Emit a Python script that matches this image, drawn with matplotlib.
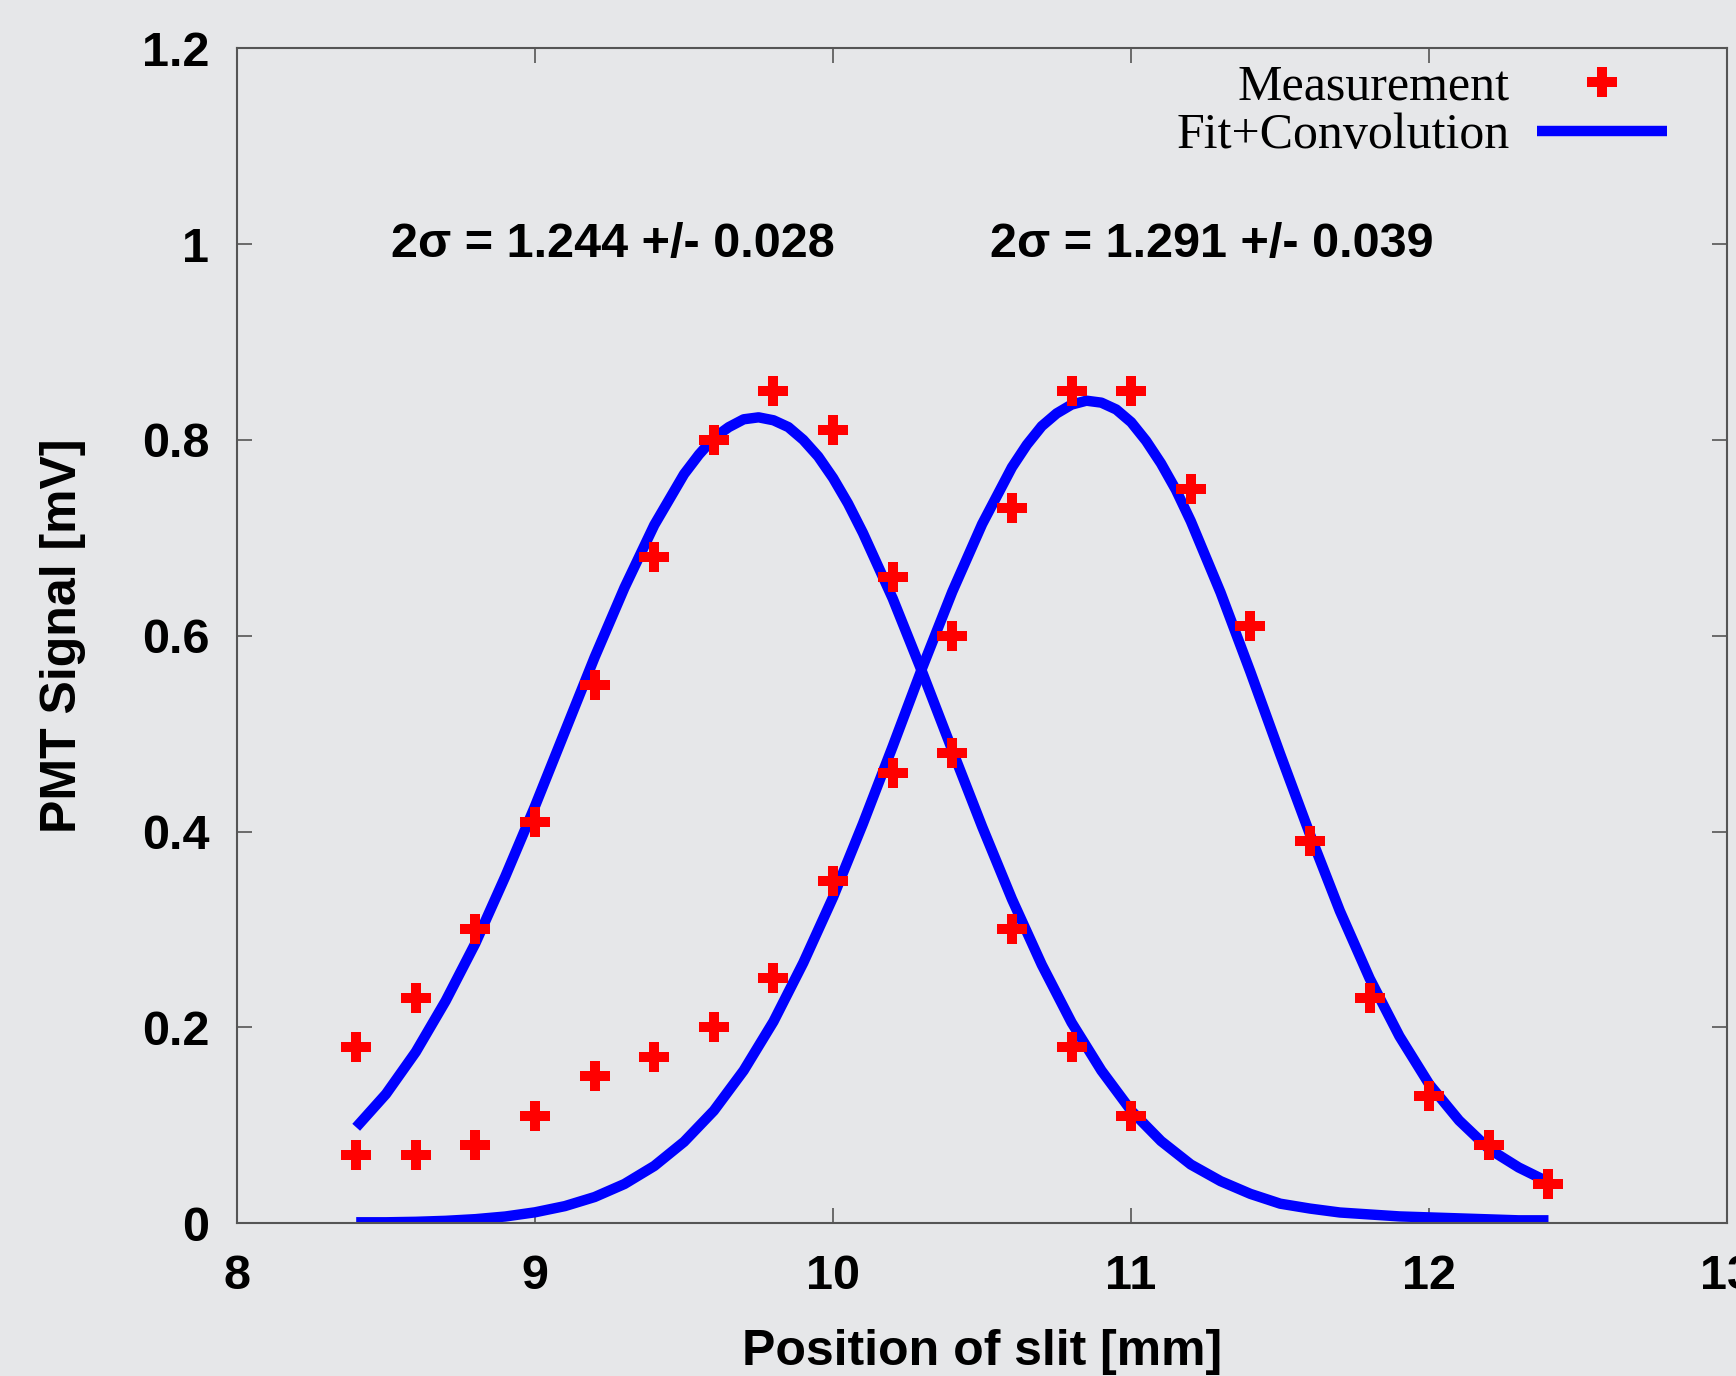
import numpy as np
import matplotlib
matplotlib.use('Agg')
import matplotlib.pyplot as plt
from matplotlib.ticker import FormatStrFormatter

# measured points (slit position in mm, PMT signal in mV)
x_meas1 = [8.4, 8.6, 8.8, 9.0, 9.2, 9.4, 9.6, 9.8, 10.0, 10.2, 10.4, 10.6, 10.8, 11.0]
y_meas1 = [0.18, 0.23, 0.30, 0.41, 0.55, 0.68, 0.80, 0.85, 0.81, 0.66, 0.48, 0.30, 0.18, 0.11]

x_meas2 = [8.4, 8.6, 8.8, 9.0, 9.2, 9.4, 9.6, 9.8, 10.0, 10.2, 10.4, 10.6, 10.8, 11.0,
           11.2, 11.4, 11.6, 11.8, 12.0, 12.2, 12.4]
y_meas2 = [0.07, 0.07, 0.08, 0.11, 0.15, 0.17, 0.20, 0.25, 0.35, 0.46, 0.60, 0.73, 0.85, 0.85,
           0.75, 0.61, 0.39, 0.23, 0.13, 0.08, 0.04]

# fit curves (finer steps around the peaks)
x_fit1 = [8.4, 8.5, 8.6, 8.7, 8.8, 8.9, 9.0, 9.1, 9.2, 9.3, 9.4, 9.5, 9.55, 9.6, 9.65,
          9.7, 9.75, 9.8, 9.85, 9.9, 9.95, 10.0, 10.05, 10.1, 10.2, 10.3, 10.4, 10.5,
          10.6, 10.7, 10.8, 10.9, 11.0, 11.1, 11.2, 11.3, 11.4, 11.5, 11.6, 11.7, 11.8,
          11.9, 12.0, 12.1, 12.2, 12.3, 12.4]
y_fit1 = [0.098, 0.132, 0.175, 0.227, 0.286, 0.354, 0.426, 0.502, 0.578, 0.649, 0.713,
          0.765, 0.785, 0.802, 0.813, 0.821, 0.823, 0.820, 0.813, 0.800, 0.783, 0.761,
          0.735, 0.705, 0.638, 0.562, 0.483, 0.405, 0.331, 0.264, 0.205, 0.156, 0.115,
          0.084, 0.060, 0.043, 0.030, 0.020, 0.015, 0.011, 0.009, 0.007, 0.006, 0.005,
          0.004, 0.003, 0.003]

x_fit2 = [8.4, 8.5, 8.6, 8.7, 8.8, 8.9, 9.0, 9.1, 9.2, 9.3, 9.4, 9.5, 9.6, 9.7, 9.8, 9.9,
          10.0, 10.1, 10.2, 10.3, 10.4, 10.5, 10.6, 10.65, 10.7, 10.75, 10.8, 10.85, 10.9,
          10.95, 11.0, 11.05, 11.1, 11.15, 11.2, 11.3, 11.4, 11.5, 11.6, 11.7, 11.8, 11.9,
          12.0, 12.1, 12.2, 12.3, 12.4]
y_fit2 = [0.001, 0.001, 0.0015, 0.0025, 0.0042, 0.0069, 0.0112, 0.0175, 0.0268, 0.0401,
          0.0585, 0.0832, 0.115, 0.156, 0.206, 0.266, 0.333, 0.408, 0.487, 0.568, 0.645,
          0.714, 0.772, 0.795, 0.814, 0.827, 0.836, 0.840, 0.838, 0.831, 0.818, 0.799,
          0.776, 0.749, 0.717, 0.644, 0.563, 0.479, 0.397, 0.319, 0.250, 0.191, 0.142,
          0.105, 0.076, 0.057, 0.042]

labels = ['Measurement', 'Fit+Convolution']
notes = ['2\u03c3 = 1.244 +/- 0.028', '2\u03c3 = 1.291 +/- 0.039']
note_x = [9.26, 11.27]

bg = '#e6e7e9'
plt.rcParams['font.family'] = ['Liberation Sans Narrow', 'Liberation Sans', 'DejaVu Sans']
plt.rcParams['font.weight'] = 'bold'

fig = plt.figure(figsize=(17.36, 13.76), dpi=100, facecolor=bg)
ax = fig.add_axes([0.1365, 0.111, 0.8585, 0.854], facecolor=bg)

ax.plot(x_meas1, y_meas1, 'P', color='#ff0000', ms=22, mew=0, label=labels[0], zorder=3)
ax.plot(x_meas2, y_meas2, 'P', color='#ff0000', ms=22, mew=0, zorder=3)
ax.plot(x_fit1, y_fit1, '-', color='#0000ff', lw=7.5, label=labels[1], zorder=2,
        solid_joinstyle='round', solid_capstyle='butt')
ax.plot(x_fit2, y_fit2, '-', color='#0000ff', lw=7.5, zorder=2,
        solid_joinstyle='round', solid_capstyle='butt')

for nx, txt in zip(note_x, notes):
    ax.text(nx, 1.0, txt, ha='center', va='center', fontsize=35, fontweight='bold')

ax.set_xlim(8, 13)
ax.set_ylim(0, 1.2)
ax.set_xticks([8, 9, 10, 11, 12, 13])
ax.set_yticks([0, 0.2, 0.4, 0.6, 0.8, 1.0, 1.2])
ax.yaxis.set_major_formatter(FormatStrFormatter('%g'))
ax.tick_params(direction='in', length=11, width=1.2, color='#555555',
               top=True, right=True, labelsize=35)
ax.tick_params(axis='x', pad=22)
ax.tick_params(axis='y', pad=20)
for s in ax.spines.values():
    s.set_color('#555555')
    s.set_linewidth(1.5)

ax.set_xlabel('Position of slit [mm]', fontsize=36, fontweight='bold', labelpad=22)
ax.set_ylabel('PMT Signal [mV]', fontsize=36, fontweight='bold', labelpad=40)

leg = ax.legend(loc='upper right', bbox_to_anchor=(0.99, 1.025), markerfirst=False,
                frameon=False, handlelength=2.6, handletextpad=0.55, labelspacing=0.05,
                prop={'family': 'Liberation Serif', 'size': 36, 'weight': 'normal'})

plt.savefig('out.png', dpi=100, facecolor=bg)
